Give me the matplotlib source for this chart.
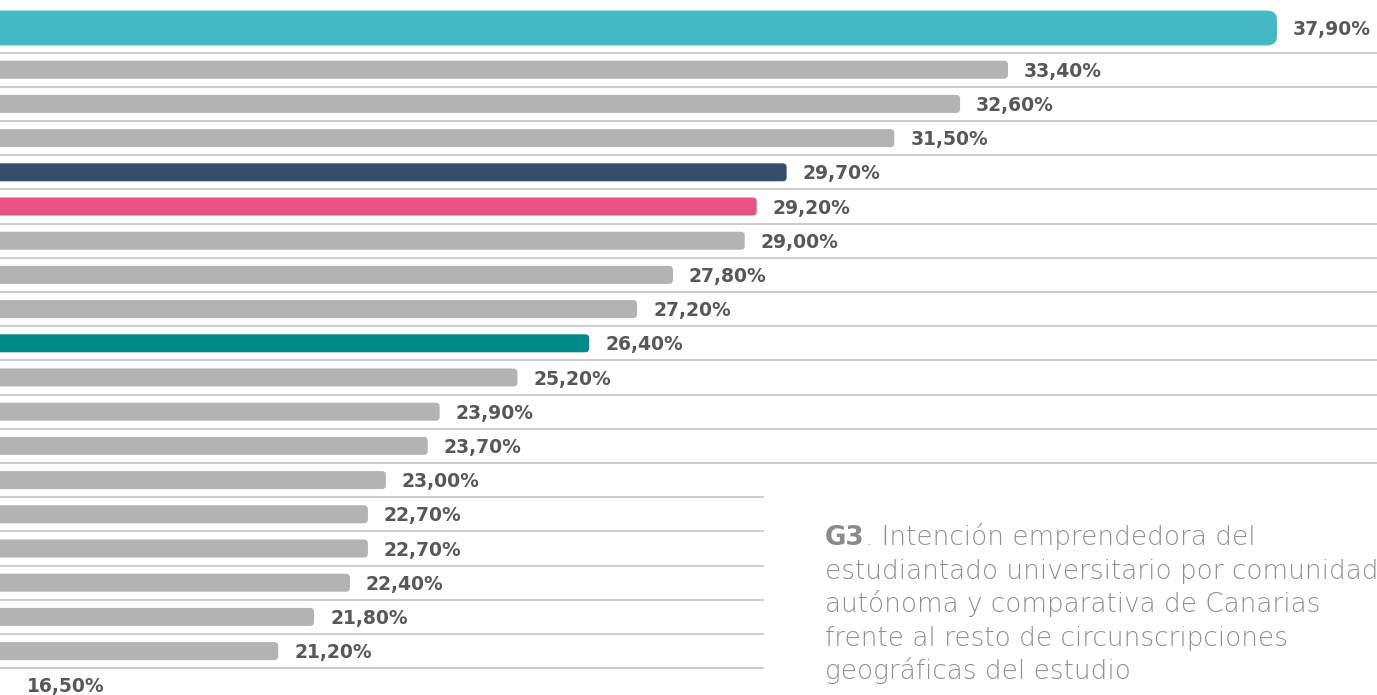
import matplotlib.pyplot as plt
from matplotlib.patches import FancyBboxPatch

values = [37.9, 33.4, 32.6, 31.5, 29.7, 29.2, 29.0, 27.8, 27.2, 26.4,
          25.2, 23.9, 23.7, 23.0, 22.7, 22.7, 22.4, 21.8, 21.2, 16.5]
value_labels = ["37,90%", "33,40%", "32,60%", "31,50%", "29,70%", "29,20%",
                "29,00%", "27,80%", "27,20%", "26,40%", "25,20%", "23,90%",
                "23,70%", "23,00%", "22,70%", "22,70%", "22,40%", "21,80%",
                "21,20%", "16,50%"]
caption_lines = ["estudiantado universitario por comunidad",
                 "autónoma y comparativa de Canarias",
                 "frente al resto de circunscripciones",
                 "geográficas del estudio"]

# colours for the highlighted rows, everything else grey
grey = "#b3b3b3"
highlight = {0: "#45bac4", 4: "#344d69", 5: "#e95383", 9: "#008a8a"}

W, H = 1377, 695
fig = plt.figure(figsize=(W / 100, H / 100), dpi=100)
ax = fig.add_axes([0, 0, 1, 1])

# pixel scale
px_x = 59.82   # px per percent
px_y = 34.2    # px per row
x0 = 16.55
x1 = x0 + W / px_x
y_top = -35.5 / px_y
y_bot = y_top + H / px_y
ax.set_xlim(x0, x1)
ax.set_ylim(y_bot, y_top)
ax.axis("off")

aspect = (1 / px_y) / (1 / px_x)
for i, v in enumerate(values):
    col = highlight.get(i, grey)
    if i == 0:
        h = 35 / px_y
        bottom = i + 10 / px_y
        r = 10 / px_x
    else:
        h = 18 / px_y
        bottom = i + 9 / px_y
        r = 4 / px_x
    box = FancyBboxPatch((0, bottom - h), v, h,
                         boxstyle="round,pad=0,rounding_size=%f" % r,
                         mutation_aspect=aspect, fc=col, ec="none", zorder=2)
    ax.add_patch(box)
    yc = bottom - h / 2
    xt = max(v, x0)
    off = 16 if v > x0 else 27
    ax.annotate(value_labels[i], (xt, yc), xytext=(off * 0.72, -1.2),
                textcoords="offset points", va="center", ha="left",
                fontsize=13.5, fontweight="bold", color="#585858")

# row separators
for i in range(len(values) - 1):
    y = i + 0.5
    xe = x1 if i < 13 else x0 + 763 / px_x
    ax.plot([x0, xe], [y, y], color="#c4c4c4", lw=1.2, zorder=1)

# caption, size fitted so the longest line spans ~552 px
cap_font = "DejaVu Sans"
cap_w = 200
probe = fig.text(0, 0, caption_lines[0], fontsize=10, family=cap_font, fontweight=cap_w)
fig.canvas.draw()
fs = 10 * 552 / probe.get_window_extent().width
probe.remove()

t = fig.text(825 / W, 1 - 545 / H, "G3", fontsize=fs, fontweight="bold",
             color="#8a8a8a", family=cap_font, va="baseline")
fig.canvas.draw()
bb = t.get_window_extent()
fig.text(bb.x1 / W, 1 - 545 / H, ". Intención emprendedora del", fontsize=fs,
         color="#8f8f8f", family=cap_font, fontweight=cap_w, va="baseline")
for k, line in enumerate(caption_lines):
    fig.text(825 / W, 1 - (545 + 33.6 * (k + 1)) / H, line, fontsize=fs,
             color="#8f8f8f", family=cap_font, fontweight=cap_w, va="baseline")

fig.savefig("out.png", dpi=100)
